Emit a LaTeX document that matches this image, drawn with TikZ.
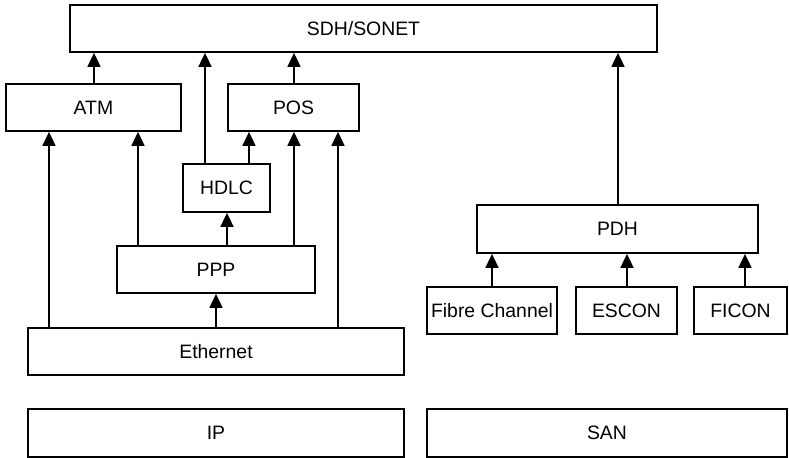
\documentclass[tikz,border=0pt]{standalone}
\usepackage{fontspec}
\setmainfont{Liberation Sans}
\usepackage{tikz}
\usetikzlibrary{arrows.meta}
\tikzset{
	layer/.style = {draw=black, line width=0.9pt, inner sep=0pt, align=center,
		font=\fontsize{9.7pt}{11pt}\selectfont, minimum height=23.5pt},% couche
	up/.style = {-{Triangle[length=7pt,width=6.5pt]}, line width=0.9pt}% fleche
}
\begin{document}
\begin{tikzpicture}[x=0.5pt,y=-0.5pt]
\useasboundingbox (0,0) rectangle (789,458);
% couches
\node [layer, minimum width=293.5pt] (sdh) at (363.5,28.5) {SDH/SONET};
\node [layer, minimum width=87.5pt] (atm) at (93.5,107.5) {ATM};
\node [layer, minimum width=65.5pt] (pos) at (293.5,107.5) {POS};
\node [layer, minimum width=43.5pt, minimum height=24pt] (hdlc) at (226.5,188) {HDLC};
\node [layer, minimum width=99pt] (ppp) at (216,269.5) {PPP};
\node [layer, minimum width=188pt] (eth) at (216,351.5) {Ethernet};
\node [layer, minimum width=188pt, minimum height=24pt] (ip) at (216,433) {IP};
\node [layer, minimum width=140.5pt, minimum height=24pt] (pdh) at (617.5,229) {PDH};
\node [layer, minimum width=65pt] (fc) at (492,310.5) {Fibre Channel};
\node [layer, minimum width=50.5pt] (escon) at (626.5,310.5) {ESCON};
\node [layer, minimum width=46.5pt] (ficon) at (740.5,310.5) {FICON};
\node [layer, minimum width=180pt, minimum height=24pt] (san) at (607,433) {SAN};
% vers SDH/SONET
\draw [up] (94,0 |- atm.north) -- (94,0 |- sdh.south);
\draw [up] (205,0 |- hdlc.north) -- (205,0 |- sdh.south);
\draw [up] (294,0 |- pos.north) -- (294,0 |- sdh.south);
\draw [up] (618,0 |- pdh.north) -- (618,0 |- sdh.south);
% vers ATM et POS
\draw [up] (49,0 |- eth.north) -- (49,0 |- atm.south);
\draw [up] (138,0 |- ppp.north) -- (138,0 |- atm.south);
\draw [up] (249,0 |- hdlc.north) -- (249,0 |- pos.south);
\draw [up] (294,0 |- ppp.north) -- (294,0 |- pos.south);
\draw [up] (338,0 |- eth.north) -- (338,0 |- pos.south);
% vers HDLC et PPP
\draw [up] (227,0 |- ppp.north) -- (227,0 |- hdlc.south);
\draw [up] (216,0 |- eth.north) -- (216,0 |- ppp.south);
% vers PDH
\draw [up] (492,0 |- fc.north) -- (492,0 |- pdh.south);
\draw [up] (627,0 |- escon.north) -- (627,0 |- pdh.south);
\draw [up] (745,0 |- ficon.north) -- (745,0 |- pdh.south);
\end{tikzpicture}
\end{document}
